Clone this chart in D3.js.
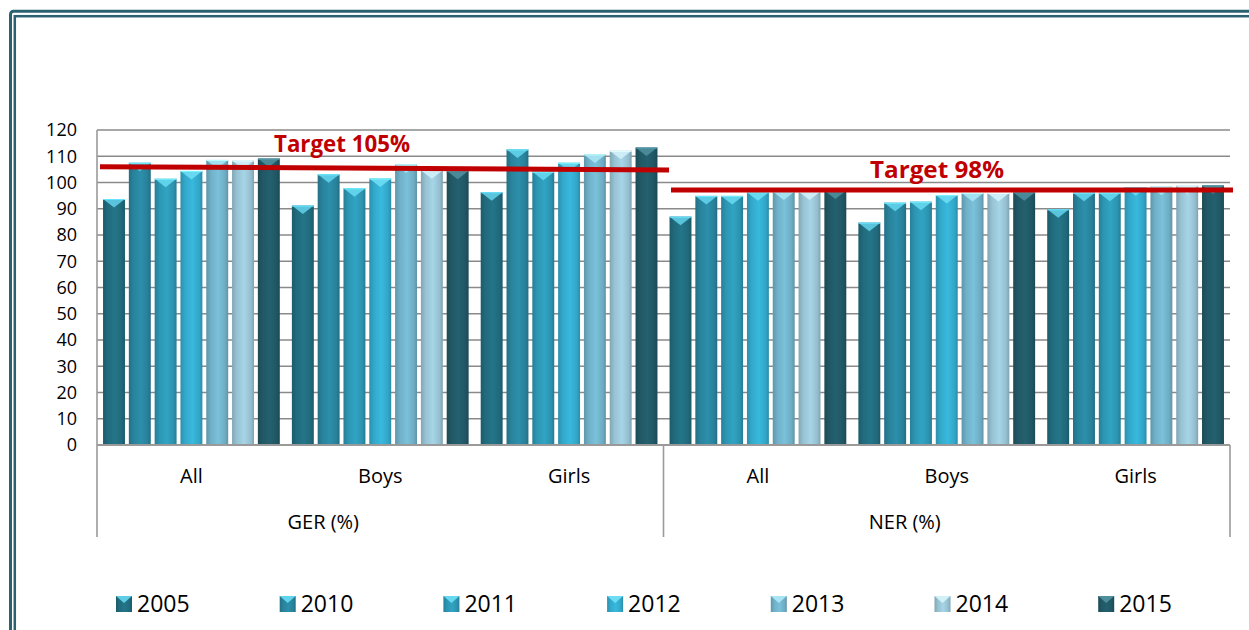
<!DOCTYPE html>
<html>
<head>
<meta charset="utf-8">
<script src="https://cdn.jsdelivr.net/npm/d3@7/dist/d3.min.js"></script>
<style>
  html, body { margin: 0; padding: 0; background: #ffffff; }
  svg { display: block; }
  text { font-family: "Open Sans", "Noto Sans", sans-serif; }
</style>
</head>
<body>
<svg id="chart" width="1249" height="630"></svg>
<script>
// ---- data ----
const groups = ["GER-All", "GER-Boys", "GER-Girls", "NER-All", "NER-Boys", "NER-Girls"];
const innerLabels = ["All", "Boys", "Girls", "All", "Boys", "Girls"];
const outerLabels = ["GER (%)", "NER (%)"];
const years = ["2005", "2010", "2011", "2012", "2013", "2014", "2015"];
const v2005 = [93.7, 91.2, 96.3, 87.0, 84.7, 89.8];
const v2010 = [107.5, 103.1, 112.6, 94.9, 92.3, 96.1];
const v2011 = [101.4, 97.8, 104.1, 94.9, 92.7, 96.1];
const v2012 = [104.4, 101.5, 107.5, 96.3, 95.2, 98.2];
const v2013 = [108.6, 106.9, 110.7, 96.6, 96.0, 98.4];
const v2014 = [108.4, 104.7, 112.1, 96.6, 96.0, 98.9];
const v2015 = [109.1, 104.5, 113.3, 97.0, 96.3, 98.9];
const series = [v2005, v2010, v2011, v2012, v2013, v2014, v2015];
const yTicks = [0, 10, 20, 30, 40, 50, 60, 70, 80, 90, 100, 110, 120];
// target lines: label, start value, end value
const targetLabels = ["Target 105%", "Target 98%"];
const targetStart = [106.0, 97.15];
const targetEnd = [104.8, 97.15];

// ---- style ----
const baseColors = ["#226F82", "#2A88A2", "#2E9BB9", "#35AFD2", "#74B7CF", "#9DCADB", "#225B69"];
const bevelColors = ["#5FCDE6", "#62D3EC", "#66D8F0", "#6EDDF4", "#A8E4F3", "#D2F0F8", "#4F8E9C"];

const svg = d3.select("#chart");
const defs = svg.append("defs");

const x0 = d3.scaleBand().domain(groups).range([97, 1230]).padding(0);
const x1 = d3.scaleBand().domain(years).range([0, x0.bandwidth()]).paddingInner(0.15).paddingOuter(0.234);
const y = d3.scaleLinear().domain([0, 120]).range([445, 130]);

// gradients
years.forEach((yr, i) => {
  const c = d3.color(baseColors[i]);
  const g = defs.append("linearGradient").attr("id", "g" + i)
    .attr("x1", "0%").attr("x2", "100%").attr("y1", "0%").attr("y2", "0%");
  g.append("stop").attr("offset", "0%").attr("stop-color", c.darker(0.55));
  g.append("stop").attr("offset", "22%").attr("stop-color", c.darker(0.1));
  g.append("stop").attr("offset", "55%").attr("stop-color", c.brighter(0.15));
  g.append("stop").attr("offset", "85%").attr("stop-color", c.darker(0.15));
  g.append("stop").attr("offset", "100%").attr("stop-color", c.darker(0.6));
});

// border (double)
svg.append("rect").attr("x", 10.5).attr("y", 11.2).attr("width", 1300).attr("height", 700)
  .attr("rx", 3).attr("fill", "none").attr("stroke", "#2B6170").attr("stroke-width", 3);
svg.append("rect").attr("x", 14.8).attr("y", 16.2).attr("width", 1300).attr("height", 700)
  .attr("fill", "none").attr("stroke", "#2B6170").attr("stroke-width", 2.5);

// gridlines
svg.append("g").selectAll("line").data(yTicks.filter(d => d > 0)).join("line")
  .attr("x1", 97).attr("x2", 1230)
  .attr("y1", d => y(d)).attr("y2", d => y(d))
  .attr("stroke", "#8a8a8a").attr("stroke-width", 1.6);

// y axis labels
svg.append("g").selectAll("text").data(yTicks).join("text")
  .attr("x", 77).attr("y", d => y(d)).attr("dy", "0.36em")
  .attr("text-anchor", "end").attr("font-size", 18).attr("fill", "#000")
  .text(d => d);

// bars
const barG = svg.append("g");
groups.forEach((grp, gi) => {
  years.forEach((yr, si) => {
    const val = series[si][gi];
    const bx = x0(grp) + x1(yr);
    const bw = x1.bandwidth();
    const by = y(val);
    const bh = y(0) - by;
    barG.append("rect").attr("x", bx).attr("y", by).attr("width", bw).attr("height", bh)
      .attr("fill", "url(#g" + si + ")");
    barG.append("path")
      .attr("d", `M${bx},${by} L${bx + bw},${by} L${bx + bw / 2},${by + 8.5} Z`)
      .attr("fill", bevelColors[si]).attr("opacity", 0.9);
    barG.append("line").attr("x1", bx).attr("x2", bx + bw).attr("y1", by + 0.5).attr("y2", by + 0.5)
      .attr("stroke", d3.color(bevelColors[si]).brighter(0.3)).attr("stroke-width", 1);
  });
});

// axis lines
svg.append("line").attr("x1", 97).attr("x2", 1230).attr("y1", 445).attr("y2", 445)
  .attr("stroke", "#9a9a9a").attr("stroke-width", 2);
svg.append("line").attr("x1", 97).attr("x2", 97).attr("y1", 130).attr("y2", 537)
  .attr("stroke", "#9a9a9a").attr("stroke-width", 1.6);
[x0("NER-All"), 1230].forEach(xx => {
  svg.append("line").attr("x1", xx).attr("x2", xx).attr("y1", 445).attr("y2", 537)
    .attr("stroke", "#9a9a9a").attr("stroke-width", 1.6);
});

// category labels
svg.append("g").selectAll("text").data(groups).join("text")
  .attr("x", d => x0(d) + x0.bandwidth() / 2).attr("y", 483)
  .attr("text-anchor", "middle").attr("font-size", 20).attr("fill", "#000")
  .text((d, i) => innerLabels[i]);
// outer labels sit left of their span centre, as in the original
svg.append("g").selectAll("text").data(outerLabels).join("text")
  .attr("x", (d, i) => i === 0 ? x0("GER-Boys") + x0.bandwidth() / 2 - 57
                              : x0("NER-Boys") + x0.bandwidth() / 2 - 42)
  .attr("y", 529)
  .attr("text-anchor", "middle").attr("font-size", 20).attr("fill", "#000")
  .text(d => d);

// target lines
const tx = [[100, 669], [671, 1233]];
targetLabels.forEach((lab, i) => {
  svg.append("line").attr("x1", tx[i][0]).attr("x2", tx[i][1])
    .attr("y1", y(targetStart[i])).attr("y2", y(targetEnd[i]))
    .attr("stroke", "#C00000").attr("stroke-width", 5);
});
svg.append("text").attr("x", 342).attr("y", 152).attr("text-anchor", "middle")
  .attr("font-size", 23).attr("font-weight", "bold").attr("fill", "#C00000")
  .attr("textLength", 136).attr("lengthAdjust", "spacingAndGlyphs").text(targetLabels[0]);
svg.append("text").attr("x", 937).attr("y", 178).attr("text-anchor", "middle")
  .attr("font-size", 23).attr("font-weight", "bold").attr("fill", "#C00000")
  .attr("textLength", 134).attr("lengthAdjust", "spacingAndGlyphs").text(targetLabels[1]);

// legend
const lg = svg.append("g");
years.forEach((yr, i) => {
  const lx = 116 + i * 163.7;
  lg.append("rect").attr("x", lx).attr("y", 596).attr("width", 16).attr("height", 16)
    .attr("fill", "url(#g" + i + ")");
  lg.append("path").attr("d", `M${lx},596 L${lx + 16},596 L${lx + 8},603 Z`)
    .attr("fill", bevelColors[i]);
  lg.append("text").attr("x", lx + 21).attr("y", 612).attr("font-size", 23).attr("fill", "#000")
    .text(yr);
});
</script>
</body>
</html>
